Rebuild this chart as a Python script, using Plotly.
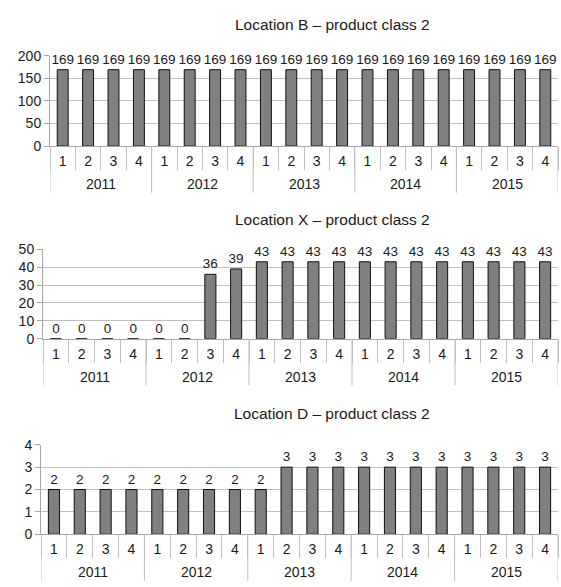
import plotly.graph_objects as go

# Quarterly data, 2011-2015
years = ["2011", "2012", "2013", "2014", "2015"]
quarters = ["1", "2", "3", "4"]

location_b = [169, 169, 169, 169, 169, 169, 169, 169, 169, 169,
              169, 169, 169, 169, 169, 169, 169, 169, 169, 169]
location_x = [0, 0, 0, 0, 0, 0, 36, 39, 43, 43,
              43, 43, 43, 43, 43, 43, 43, 43, 43, 43]
location_d = [2, 2, 2, 2, 2, 2, 2, 2, 2, 3,
              3, 3, 3, 3, 3, 3, 3, 3, 3, 3]

titles = ["Location B – product class 2",
          "Location X – product class 2",
          "Location D – product class 2"]
y_max = [200, 50, 4]
y_step = [50, 10, 1]

quarter_level = [q for _ in years for q in quarters]
positions = list(range(len(quarter_level)))

W, H = 561, 587
FONT = "Liberation Sans, Arial, sans-serif"
TXT = "#1a1a1a"
GRID = "#bfbfbf"
AXIS = "#a6a6a6"

# pixel layout of each panel: left, right, top, bottom of plot area, title y
panels = [
    dict(left=50, right=558, top=49, bottom=142, title_y=17),
    dict(left=43, right=558, top=248, bottom=340, title_y=217),
    dict(left=41, right=558, top=449, bottom=541, title_y=417),
]

fig = go.Figure()
layout = {}
annotations = []
shapes = []
nq = len(quarters)

for i, (vals, title, ymax, step, p) in enumerate(
        zip([location_b, location_x, location_d], titles, y_max, y_step, panels)):
    n = "" if i == 0 else str(i + 1)
    plot_h = p["bottom"] - p["top"]
    fig.add_trace(go.Bar(
        x=positions,
        y=vals,
        text=[str(v) for v in vals],
        textposition="outside",
        constraintext="none",
        textfont=dict(family=FONT, size=13.5, color=TXT),
        cliponaxis=False,
        marker=dict(color="#808080", line=dict(color="#111111", width=1)),
        width=0.43,
        xaxis="x" + n,
        yaxis="y" + n,
        showlegend=False,
    ))
    layout["xaxis" + n] = dict(
        domain=[p["left"] / W, p["right"] / W],
        anchor="y" + n,
        range=[-0.5, len(positions) - 0.5],
        showline=True, linecolor=AXIS, linewidth=1,
        showgrid=False, zeroline=False,
        tickmode="array", tickvals=positions, ticktext=quarter_level,
        ticks="", ticklabelstandoff=2,
        minor=dict(tickmode="linear", tick0=-0.5, dtick=1,
                   ticks="outside", ticklen=23, tickcolor=GRID, tickwidth=1,
                   showgrid=False),
        tickfont=dict(family=FONT, size=14, color=TXT),
        fixedrange=True,
    )
    layout["yaxis" + n] = dict(
        domain=[1 - p["bottom"] / H, 1 - p["top"] / H],
        anchor="x" + n,
        range=[0, ymax], dtick=step, tick0=0,
        showgrid=True, gridcolor=GRID, gridwidth=1,
        showline=True, linecolor=AXIS, linewidth=1,
        ticks="outside", ticklen=5, tickcolor=AXIS,
        zeroline=False,
        tickfont=dict(family=FONT, size=14, color=TXT),
        fixedrange=True,
    )
    # year group labels and the dividers between year groups
    for k, yr in enumerate(years):
        annotations.append(dict(
            text=yr, x=k * nq + (nq - 1) / 2, y=0,
            xref="x" + n, yref=f"y{n} domain",
            xanchor="center", yanchor="middle", yshift=-38,
            showarrow=False, font=dict(family=FONT, size=14, color=TXT),
        ))
    for k in range(len(years) + 1):
        shapes.append(dict(
            type="line", x0=k * nq - 0.5, x1=k * nq - 0.5,
            y0=0, y1=-48 / plot_h,
            xref="x" + n, yref=f"y{n} domain",
            line=dict(color=GRID, width=1),
        ))
    annotations.append(dict(
        text=title, x=332 / W, y=1 - p["title_y"] / H,
        xref="paper", yref="paper", xanchor="center", yanchor="middle",
        showarrow=False, font=dict(family=FONT, size=15.5, color=TXT),
    ))

fig.update_layout(
    **layout,
    annotations=annotations,
    shapes=shapes,
    width=W, height=H,
    margin=dict(l=0, r=0, t=0, b=0),
    paper_bgcolor="white", plot_bgcolor="white",
)

fig.write_html("out.html", config={"displayModeBar": False})
